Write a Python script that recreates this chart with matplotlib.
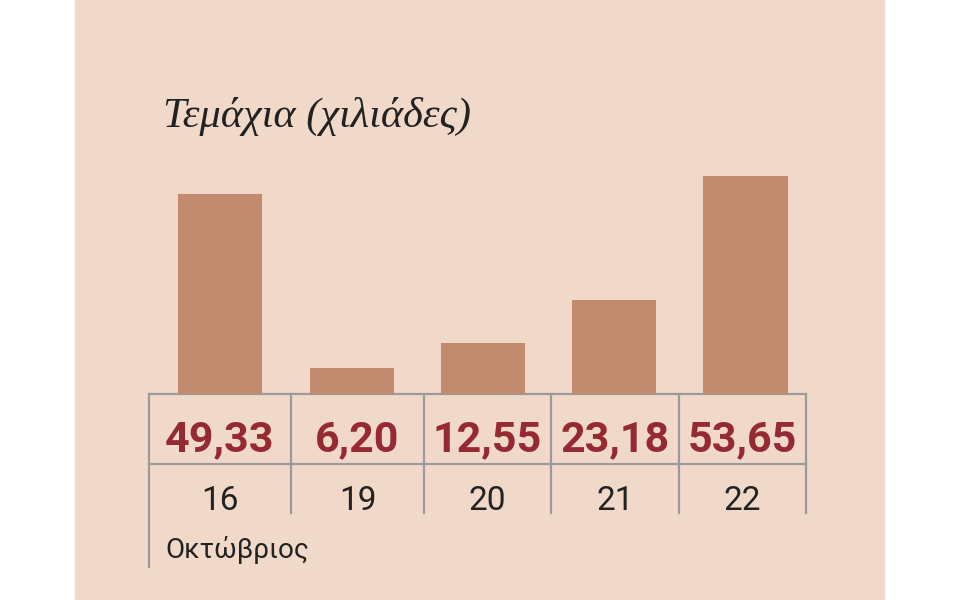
import matplotlib
matplotlib.use("Agg")
import matplotlib.pyplot as plt

# data
days = ["16", "19", "20", "21", "22"]
values = [49.33, 6.20, 12.55, 23.18, 53.65]
value_labels = ["49,33", "6,20", "12,55", "23,18", "53,65"]
title = "Τεμάχια (χιλιάδες)"
month = "Οκτώβριος"

BG = "#f1d9c9"
BAR = "#c28a6e"
RED = "#962a32"
GRID = "#9a9a9a"
INK = "#222222"

W, H = 960, 600
fig = plt.figure(figsize=(W / 100, H / 100), dpi=100)
fig.patch.set_facecolor("white")

# full-figure overlay in pixel coords (y grows downward)
ov = fig.add_axes([0, 0, 1, 1])
ov.set_xlim(0, W)
ov.set_ylim(H, 0)
ov.axis("off")
ov.add_patch(plt.Rectangle((75, 0), 809, H, color=BG, zorder=0))

# bars
px_per_unit = 4.05
base_y = 393.5
ymax = 56
bar_left = 220.3 - 65.65
ax = fig.add_axes([bar_left / W, (H - base_y) / H, 656.5 / W,
                   ymax * px_per_unit / H])
ax.set_facecolor("none")
ax.bar(range(len(values)), values, width=0.641, color=BAR, zorder=2)
ax.set_xlim(-0.5, len(values) - 0.5)
ax.set_ylim(0, ymax)
ax.axis("off")

# title
ov.text(163, 127, title, fontsize=30.5, fontstyle="italic",
        family=["Liberation Serif", "DejaVu Serif"], color=INK,
        va="baseline", ha="left")

# table grid
edges = [149, 291, 424, 551, 679, 806]
row1, row2, row_end = 393.5, 464, 513
ov.plot([edges[0], edges[-1]], [row1, row1], color=GRID, lw=1.6, zorder=3)
ov.plot([edges[0], edges[-1]], [row2, row2], color=GRID, lw=1.6, zorder=3)
for i, e in enumerate(edges):
    bottom = 567 if i == 0 else row_end
    ov.plot([e, e], [row1, bottom], color=GRID, lw=1.6, zorder=3)

for i in range(len(values)):
    cx = (edges[i] + edges[i + 1]) / 2
    ov.text(cx, 451, value_labels[i], fontsize=31, fontweight="bold",
            family="Roboto", color=RED, ha="center", va="baseline")
    ov.text(cx, 510, days[i], fontsize=24, fontweight="normal",
            family="Roboto", color=INK, ha="center", va="baseline")

ov.text(165, 558, month, fontsize=20, fontweight="normal", family="Roboto",
        color=INK, ha="left", va="baseline")

fig.savefig("out.png", dpi=100)
